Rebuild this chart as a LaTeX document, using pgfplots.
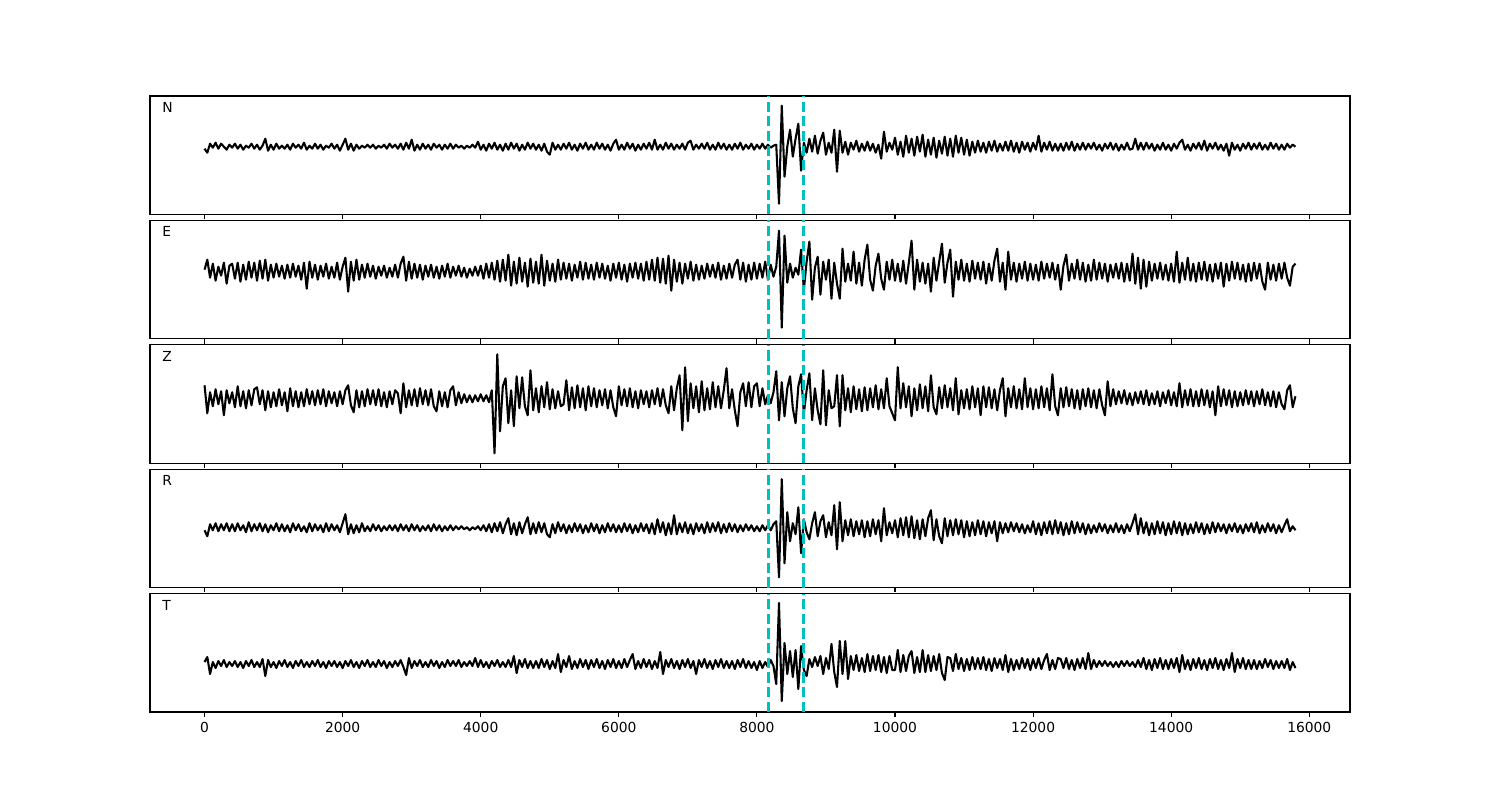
\documentclass[border=0pt]{standalone}
\usepackage{pgfplots}
\usepackage{pgfplotstable}
\pgfplotsset{compat=1.18}
\usepackage{fontspec}
\setmainfont{DejaVu Sans}
\definecolor{mplc}{rgb}{0,0.75,0.75}

\pgfplotstableread[row sep=\\, header=false]{
-2\\-6\\3\\-1\\4\\-2\\3\\0\\-3\\2\\
-1\\3\\-2\\2\\-3\\1\\-1\\3\\-2\\2\\
-3\\1\\8\\-4\\2\\-3\\3\\-2\\1\\-2\\
2\\-3\\3\\-1\\2\\-2\\4\\-3\\1\\-2\\
3\\-2\\2\\-3\\1\\-1\\3\\-2\\2\\-4\\
2\\8\\-3\\3\\-4\\2\\-2\\1\\-1\\2\\
-1\\2\\-2\\1\\-1\\2\\-2\\3\\-1\\2\\
-2\\3\\-3\\4\\-2\\7\\-4\\2\\-3\\3\\
-2\\2\\-3\\3\\-1\\2\\-3\\2\\-2\\3\\
-2\\2\\-1\\1\\-2\\1\\-1\\2\\-1\\5\\
-3\\2\\-4\\3\\-2\\4\\-3\\2\\-4\\3\\
-3\\4\\-2\\3\\-4\\2\\-3\\4\\-2\\3\\
-3\\2\\-4\\3\\-5\\-8\\4\\-3\\2\\-3\\
3\\-2\\4\\-3\\2\\-4\\3\\-2\\4\\-3\\
2\\-3\\4\\-2\\3\\-3\\2\\-4\\3\\7\\
-3\\2\\-3\\4\\-2\\3\\-4\\2\\-3\\3\\
-2\\4\\-3\\7\\-3\\2\\-3\\4\\-2\\3\\
-3\\2\\-2\\3\\-3\\4\\6\\-3\\2\\-2\\
3\\-2\\4\\-3\\2\\-3\\4\\-2\\3\\-3\\
2\\-3\\3\\-2\\4\\-3\\2\\-2\\3\\-3\\
2\\-2\\3\\-2\\2\\-1\\1\\2\\-57\\41\\
-30\\0\\17\\-10\\8\\23\\-24\\4\\-6\\8\\
-5\\11\\-7\\6\\14\\-8\\4\\-6\\17\\-25\\
16\\-6\\5\\-8\\4\\-3\\6\\-5\\3\\-4\\
5\\-4\\3\\-6\\2\\-12\\15\\-5\\4\\-3\\
9\\-8\\5\\-10\\11\\-6\\8\\-9\\10\\-5\\
12\\-10\\7\\-8\\9\\-11\\6\\-7\\10\\-9\\
8\\-10\\11\\-6\\9\\-8\\7\\-9\\5\\-6\\
6\\-5\\4\\-6\\5\\-4\\6\\-5\\3\\-4\\
5\\-4\\6\\-5\\4\\-6\\5\\-3\\4\\-5\\
4\\-3\\11\\-5\\4\\-3\\5\\-4\\3\\-4\\
3\\-4\\4\\-3\\5\\-4\\3\\-3\\4\\-3\\
3\\-2\\4\\-3\\2\\-4\\3\\-2\\4\\-3\\
3\\-4\\2\\-3\\4\\-3\\-2\\8\\-3\\4\\
-3\\4\\-2\\3\\-4\\2\\-3\\4\\-3\\2\\
-4\\3\\-2\\4\\7\\-3\\2\\-4\\3\\-2\\
4\\-3\\6\\-4\\3\\-2\\4\\-3\\2\\-4\\
3\\-9\\4\\-3\\2\\-4\\3\\-2\\4\\-3\\
3\\-2\\4\\-3\\2\\-3\\4\\-2\\3\\-3\\
2\\-3\\3\\-1\\2\\0\\
}\tabN

\pgfplotstableread[row sep=\\, header=false]{
2\\12\\-6\\8\\-9\\5\\-4\\9\\-12\\6\\
8\\-7\\9\\-10\\7\\-8\\10\\-6\\9\\-9\\
11\\-7\\12\\-9\\7\\-6\\8\\-5\\6\\-7\\
7\\-6\\8\\-5\\6\\-8\\9\\-17\\10\\-6\\
7\\-8\\6\\-5\\8\\-7\\5\\-6\\9\\-8\\
5\\14\\-20\\10\\-9\\12\\-8\\7\\-6\\8\\
-5\\6\\-7\\5\\-4\\6\\-6\\4\\-5\\7\\
-6\\8\\15\\-9\\10\\-7\\8\\-6\\7\\-8\\
6\\-5\\7\\-6\\5\\-7\\6\\-5\\8\\-6\\
5\\-4\\6\\-5\\4\\-6\\3\\-4\\5\\-4\\
6\\-7\\8\\-6\\9\\-8\\11\\-10\\12\\-9\\
17\\-14\\10\\-12\\14\\-10\\9\\-15\\13\\-11\\
10\\-12\\17\\-14\\11\\-9\\8\\-10\\12\\-8\\
9\\-7\\8\\-9\\7\\-6\\10\\-8\\9\\-7\\
7\\-8\\9\\-6\\8\\-7\\6\\-9\\8\\-6\\
9\\-8\\7\\-10\\8\\-6\\9\\-7\\8\\-9\\
10\\-8\\12\\-9\\14\\-11\\13\\-12\\16\\-19\\
12\\-10\\9\\-12\\8\\-7\\10\\-9\\7\\-8\\
6\\-7\\8\\-5\\7\\-6\\9\\-8\\6\\-7\\
8\\-6\\7\\12\\-8\\9\\-10\\7\\-8\\9\\
-7\\8\\-6\\10\\-8\\7\\-5\\5\\41\\-56\\
36\\-11\\8\\-6\\4\\-3\\22\\-18\\10\\30\\
-28\\4\\15\\-23\\10\\-8\\12\\-27\\9\\-12\\
-27\\23\\-10\\8\\-9\\20\\-12\\9\\-14\\12\\
27\\-8\\-19\\6\\18\\-7\\-18\\10\\-8\\12\\
-9\\8\\-10\\11\\-12\\9\\31\\-18\\12\\-10\\
9\\-12\\8\\-20\\14\\-9\\10\\28\\-11\\9\\
22\\-25\\10\\-8\\12\\-9\\8\\-10\\11\\-7\\
9\\-8\\10\\-12\\8\\-9\\11\\23\\-10\\9\\
-18\\20\\-8\\9\\-10\\8\\-7\\10\\-9\\8\\
-8\\7\\-9\\10\\-7\\8\\-6\\9\\-8\\7\\
-18\\6\\17\\-9\\8\\-7\\12\\-8\\9\\-10\\
7\\-9\\12\\-8\\9\\-7\\8\\-10\\7\\-6\\
8\\-7\\9\\-10\\8\\-9\\18\\-12\\14\\-17\\
12\\-15\\10\\-9\\8\\-7\\9\\-8\\7\\-9\\
8\\-10\\20\\-11\\9\\-8\\14\\-9\\8\\-10\\
9\\-8\\10\\-9\\7\\-10\\8\\-7\\9\\-15\\
8\\-9\\10\\-7\\9\\-8\\7\\-10\\8\\-9\\
9\\-7\\8\\-10\\-18\\9\\-8\\7\\-9\\8\\
-7\\9\\-6\\-14\\5\\8\\
}\tabE

\pgfplotstableread[row sep=\\, header=false]{
13\\-15\\6\\-8\\9\\-6\\7\\-17\\8\\-5\\
6\\-9\\12\\-8\\7\\-10\\8\\-7\\9\\11\\
-6\\8\\-12\\7\\-9\\6\\-8\\9\\-7\\6\\
-13\\10\\-8\\7\\-9\\6\\-8\\9\\-6\\7\\
-7\\8\\-6\\9\\-8\\7\\-5\\6\\-8\\7\\
-6\\8\\13\\-7\\-14\\8\\-9\\7\\-8\\9\\
-6\\8\\-7\\9\\-8\\6\\-9\\7\\-6\\8\\
5\\-15\\15\\-9\\8\\-7\\9\\-8\\10\\-6\\
8\\-7\\9\\-8\\-13\\7\\-8\\6\\-9\\8\\
12\\-7\\6\\-5\\4\\-4\\3\\-4\\3\\-3\\
4\\-3\\3\\-4\\8\\-55\\44\\-33\\12\\20\\
-25\\8\\-28\\22\\-10\\21\\-8\\-17\\28\\-12\\
10\\-14\\12\\-9\\16\\-11\\9\\-10\\7\\-8\\
-6\\18\\-12\\11\\-10\\13\\-9\\10\\-12\\12\\
-8\\10\\-9\\8\\-7\\9\\-10\\8\\-9\\-18\\
12\\-7\\9\\-8\\10\\-9\\7\\-10\\8\\-6\\
7\\-9\\8\\-6\\10\\-8\\9\\-7\\-15\\12\\
-12\\10\\23\\-32\\31\\-23\\15\\-10\\12\\-14\\
17\\-12\\10\\-11\\16\\-9\\12\\-10\\8\\30\\
-10\\9\\-12\\-28\\6\\15\\-8\\16\\-9\\12\\
15\\-8\\10\\-6\\3\\-5\\6\\27\\-22\\16\\
-18\\10\\22\\-10\\-25\\12\\24\\-15\\8\\25\\
-22\\10\\-12\\-26\\28\\-27\\8\\-10\\-8\\23\\
-28\\23\\-12\\10\\-14\\12\\-11\\9\\-13\\11\\
-12\\10\\-9\\13\\-11\\9\\-10\\20\\-8\\-15\\
-22\\31\\-10\\15\\-9\\12\\-18\\10\\-12\\14\\
-10\\12\\-13\\23\\-9\\-16\\11\\-10\\13\\-9\\
10\\-12\\20\\-16\\8\\-10\\9\\-11\\12\\-9\\
10\\-17\\12\\-9\\11\\-10\\9\\-12\\8\\20\\
-18\\10\\-9\\12\\-10\\9\\-11\\20\\-9\\10\\
-11\\9\\-10\\12\\-9\\10\\-12\\24\\-8\\-17\\
10\\-9\\11\\-8\\9\\-10\\8\\-11\\9\\-8\\
10\\-9\\8\\-10\\9\\-7\\-17\\17\\-8\\9\\
-6\\7\\-5\\8\\-6\\5\\-7\\6\\-5\\7\\
-6\\8\\-7\\5\\-6\\7\\-8\\6\\-5\\8\\
-7\\6\\-8\\15\\-9\\8\\-7\\9\\-8\\7\\
-8\\9\\-7\\8\\-9\\7\\-17\\12\\-8\\9\\
-7\\8\\-9\\7\\-8\\6\\-7\\8\\-6\\7\\
-8\\7\\-6\\9\\-7\\6\\-8\\7\\-9\\6\\
-6\\-11\\8\\13\\-9\\2\\
}\tabZ

\pgfplotstableread[row sep=\\, header=false]{
-2\\-8\\4\\-2\\5\\-3\\4\\-2\\5\\-3\\
4\\-3\\5\\-2\\3\\-4\\6\\-3\\4\\-2\\
5\\-3\\4\\-4\\3\\-2\\5\\-3\\4\\-3\\
3\\-4\\5\\-2\\4\\-3\\2\\-4\\5\\-3\\
4\\-2\\3\\-4\\5\\-3\\4\\-2\\3\\-4\\
5\\14\\-6\\4\\-5\\3\\-4\\5\\-3\\2\\
-3\\4\\-2\\3\\-3\\2\\-2\\3\\-2\\3\\
-3\\4\\-2\\3\\-3\\4\\-2\\3\\-3\\2\\
-2\\3\\-3\\4\\-2\\3\\-3\\2\\-2\\3\\
-2\\2\\-1\\2\\-1\\1\\-2\\1\\-1\\2\\
-2\\3\\-3\\4\\-4\\5\\-3\\6\\-5\\4\\
10\\-6\\5\\-7\\6\\-5\\4\\11\\-6\\5\\
-5\\6\\-4\\5\\-6\\-9\\4\\-5\\6\\-3\\
4\\-5\\3\\-4\\5\\-3\\4\\-5\\3\\-4\\
5\\-3\\4\\-5\\3\\-4\\5\\-3\\4\\-4\\
3\\-4\\5\\-3\\4\\-5\\3\\-4\\5\\-3\\
4\\-5\\5\\-6\\9\\-4\\6\\-7\\5\\-6\\
13\\-6\\5\\-4\\6\\-5\\4\\-6\\5\\-3\\
4\\-5\\6\\-4\\5\\-3\\6\\-5\\4\\-4\\
5\\-3\\4\\-4\\3\\-3\\4\\-2\\3\\-3\\
2\\-3\\3\\-2\\3\\-2\\4\\7\\-49\\49\\
-35\\16\\-13\\5\\-6\\21\\-25\\9\\-4\\-11\\
5\\16\\-8\\7\\13\\-9\\6\\-7\\23\\-21\\
26\\-13\\8\\-7\\9\\-8\\7\\-6\\8\\-9\\
7\\-8\\9\\-6\\8\\-13\\20\\-7\\6\\-5\\
8\\-9\\10\\-7\\11\\-9\\12\\-10\\8\\-11\\
9\\-8\\10\\18\\-12\\9\\-8\\-15\\10\\-8\\
8\\-7\\9\\-6\\8\\-9\\7\\-8\\6\\-7\\
8\\-6\\7\\-8\\6\\-5\\7\\-13\\6\\-5\\
5\\-4\\6\\-3\\5\\-4\\4\\-5\\3\\-4\\
7\\-6\\5\\-7\\6\\-5\\7\\-6\\8\\-5\\
6\\-7\\5\\-6\\7\\-5\\6\\-4\\5\\-6\\
4\\-5\\3\\-4\\5\\-3\\4\\-5\\3\\-4\\
5\\-4\\3\\-5\\4\\-3\\5\\14\\-6\\10\\
-5\\6\\-7\\5\\-6\\7\\-5\\6\\-7\\5\\
-6\\7\\-5\\6\\-7\\5\\-6\\4\\-5\\6\\
-4\\5\\-6\\4\\-5\\6\\-4\\5\\-3\\4\\
-5\\4\\-3\\5\\-4\\3\\-5\\4\\-3\\5\\
-4\\6\\-5\\3\\-4\\5\\-3\\4\\-5\\3\\
-4\\3\\9\\-3\\2\\-2\\
}\tabR

\pgfplotstableread[row sep=\\, header=false]{
2\\7\\-10\\2\\-4\\3\\-2\\4\\-3\\2\\
-2\\3\\-3\\2\\-4\\3\\-2\\4\\-3\\2\\
-3\\5\\-12\\4\\-3\\2\\-4\\3\\-2\\4\\
-3\\2\\-4\\3\\-2\\4\\-3\\2\\-3\\3\\
-2\\4\\-3\\2\\-4\\3\\-2\\3\\-3\\2\\
-4\\3\\-2\\4\\-3\\2\\-4\\3\\-2\\4\\
-3\\2\\-3\\4\\-2\\3\\-4\\2\\-3\\3\\
-2\\4\\-3\\-11\\6\\-4\\3\\-2\\4\\-3\\
2\\-3\\4\\-2\\3\\-4\\2\\-3\\4\\-2\\
3\\-2\\4\\-3\\2\\-2\\3\\-2\\6\\-3\\
4\\-3\\2\\-4\\3\\-2\\4\\-3\\2\\-3\\
4\\-3\\8\\-9\\4\\-3\\5\\-4\\3\\-4\\
3\\-4\\5\\-3\\4\\-5\\3\\-4\\10\\-8\\
4\\-3\\8\\-5\\3\\-4\\5\\-3\\4\\-5\\
4\\-3\\5\\-4\\3\\-5\\4\\-3\\5\\-4\\
3\\-4\\5\\-3\\4\\10\\-5\\3\\-4\\5\\
-3\\4\\-5\\3\\-4\\12\\-10\\4\\-3\\5\\
-4\\3\\-5\\4\\-3\\5\\-4\\3\\-10\\4\\
-3\\5\\-4\\3\\-5\\4\\-3\\5\\-4\\3\\
-4\\3\\-5\\4\\-3\\5\\-4\\3\\-4\\2\\
-6\\3\\-4\\2\\-3\\4\\-2\\-20\\61\\-37\\
21\\-10\\13\\-13\\14\\-25\\18\\-6\\-12\\5\\
-3\\7\\-2\\8\\-10\\6\\-5\\20\\-8\\-23\\
23\\-10\\23\\-15\\8\\-6\\9\\-7\\6\\-8\\
10\\-7\\8\\-6\\9\\-8\\7\\-9\\8\\-6\\
-6\\14\\-8\\9\\-7\\8\\13\\-9\\7\\-8\\
14\\-8\\9\\-7\\8\\-6\\10\\-9\\-16\\7\\
6\\-7\\10\\-5\\6\\-7\\5\\-6\\7\\-5\\
6\\-5\\7\\-6\\5\\-7\\6\\-4\\5\\-6\\
9\\-8\\5\\-6\\4\\-5\\6\\-4\\5\\-6\\
5\\-4\\6\\-5\\4\\10\\-6\\4\\-5\\6\\
5\\-4\\6\\-5\\4\\-6\\5\\-4\\6\\-5\\
11\\-5\\4\\-3\\3\\-2\\3\\-2\\2\\-3\\
2\\-3\\3\\-2\\3\\-2\\2\\-3\\4\\-3\\
6\\-5\\4\\-6\\5\\-4\\6\\-5\\4\\-5\\
5\\-4\\6\\-8\\9\\-5\\4\\-6\\5\\-4\\
6\\-5\\4\\-6\\5\\-4\\6\\-5\\4\\-6\\
5\\-4\\11\\-8\\5\\-4\\6\\-5\\4\\-5\\
4\\-5\\3\\-4\\5\\-3\\4\\-5\\3\\-4\\
3\\-4\\5\\-6\\2\\-4\\
}\tabT

\pgfplotsset{
  panel/.style={
    scale only axis, width=12in, height=1.184615in,
    anchor=south west,
    xmin=-790, xmax=16590,
    axis line style={line width=0.8pt},
    xtick={0,2000,4000,6000,8000,10000,12000,14000,16000},
    ytick=\empty,
    tick align=outside, xtick pos=lower,
    major tick length=3.5pt,
    every tick/.style={black, line width=0.8pt},
    scaled x ticks=false,
    tick label style={font=\fontsize{10}{12}\selectfont},
    /pgf/number format/assume math mode=true,
    /pgf/number format/1000 sep={},
  },
  trace/.style={black, line width=1.5pt, line join=round},
  pick/.style={mplc, line width=2pt, dash pattern=on 7.4pt off 3.2pt},
}

\newcommand{\panellabel}[1]{\node[anchor=base west, inner sep=0pt, font=\fontsize{10}{12}\selectfont] at (rel axis cs:0.01,0.86) {#1};}

\begin{document}
\begin{tikzpicture}
\path[use as bounding box] (0,0) rectangle (15in,8in);

\begin{axis}[panel, at={(1.5in,5.855385in)}, ymin=-67.76, ymax=50.7, xticklabels={}]
\addplot[trace] table[x expr=\coordindex*40, y index=0]{\tabN};
\addplot[pick] coordinates {(8170,-67.76) (8170,50.7)};
\addplot[pick] coordinates {(8680,-67.76) (8680,50.7)};
\panellabel{N}
\end{axis}

\begin{axis}[panel, at={(1.5in,4.611538in)}, ymin=-67.16, ymax=51.3, xticklabels={}]
\addplot[trace] table[x expr=\coordindex*40, y index=0]{\tabE};
\addplot[pick] coordinates {(8170,-67.16) (8170,51.3)};
\addplot[pick] coordinates {(8680,-67.16) (8680,51.3)};
\panellabel{E}
\end{axis}

\begin{axis}[panel, at={(1.5in,3.367692in)}, ymin=-64.96, ymax=53.5, xticklabels={}]
\addplot[trace] table[x expr=\coordindex*40, y index=0]{\tabZ};
\addplot[pick] coordinates {(8170,-64.96) (8170,53.5)};
\addplot[pick] coordinates {(8680,-64.96) (8680,53.5)};
\panellabel{Z}
\end{axis}

\begin{axis}[panel, at={(1.5in,2.123846in)}, ymin=-59.36, ymax=59.1, xticklabels={}]
\addplot[trace] table[x expr=\coordindex*40, y index=0]{\tabR};
\addplot[pick] coordinates {(8170,-59.36) (8170,59.1)};
\addplot[pick] coordinates {(8680,-59.36) (8680,59.1)};
\panellabel{R}
\end{axis}

\begin{axis}[panel, at={(1.5in,0.88in)}, ymin=-47.96, ymax=70.5,
  xticklabels={0,2000,4000,6000,8000,10000,12000,14000,16000}]
\addplot[trace] table[x expr=\coordindex*40, y index=0]{\tabT};
\addplot[pick] coordinates {(8170,-47.96) (8170,70.5)};
\addplot[pick] coordinates {(8680,-47.96) (8680,70.5)};
\panellabel{T}
\end{axis}
\end{tikzpicture}
\end{document}
